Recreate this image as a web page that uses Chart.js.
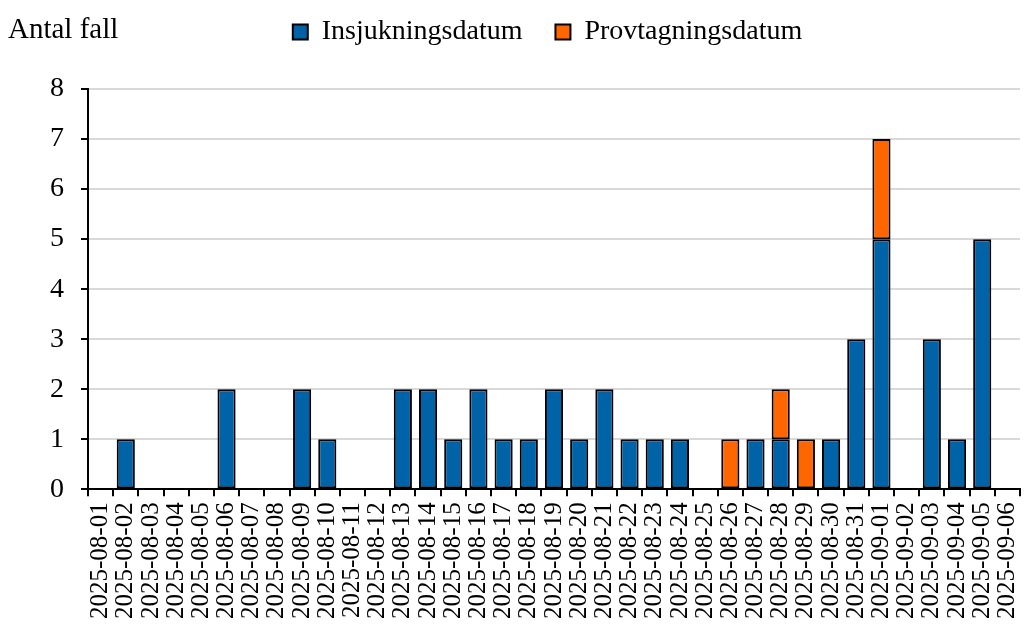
<!DOCTYPE html>
<html>
<head>
<meta charset="utf-8">
<script src="https://cdn.jsdelivr.net/npm/chart.js@4"></script>
<style>
  html, body { margin: 0; padding: 0; background: #fff; }
  #wrap { width: 1027px; height: 632px; }
</style>
</head>
<body>
<div id="wrap"><canvas id="chart"></canvas></div>
<script>
// datum (kategorier)
const dates = [
    '2025-08-01', '2025-08-02', '2025-08-03', '2025-08-04', '2025-08-05', '2025-08-06',
    '2025-08-07', '2025-08-08', '2025-08-09', '2025-08-10', '2025-08-11', '2025-08-12',
    '2025-08-13', '2025-08-14', '2025-08-15', '2025-08-16', '2025-08-17', '2025-08-18',
    '2025-08-19', '2025-08-20', '2025-08-21', '2025-08-22', '2025-08-23', '2025-08-24',
    '2025-08-25', '2025-08-26', '2025-08-27', '2025-08-28', '2025-08-29', '2025-08-30',
    '2025-08-31', '2025-09-01', '2025-09-02', '2025-09-03', '2025-09-04', '2025-09-05',
    '2025-09-06'
];
// antal fall per insjukningsdatum
const insjukning = [
    0, 1, 0, 0, 0, 2,
    0, 0, 2, 1, 0, 0,
    2, 2, 1, 2, 1, 1,
    2, 1, 2, 1, 1, 1,
    0, 0, 1, 1, 0, 1,
    3, 5, 0, 3, 1, 5,
    0
];
// antal fall per provtagningsdatum
const provtagning = [
    0, 0, 0, 0, 0, 0,
    0, 0, 0, 0, 0, 0,
    0, 0, 0, 0, 0, 0,
    0, 0, 0, 0, 0, 0,
    0, 1, 0, 1, 1, 0,
    0, 2, 0, 0, 0, 0,
    0
];
const yTicks = [0, 1, 2, 3, 4, 5, 6, 7, 8];

const serif = "'Liberation Serif', 'Times New Roman', serif";

// tomma staplar ritas inte alls (annars syns en liten kant vid noll)
const noZero = arr => arr.map(v => (v === 0 ? null : v));

// y-axeltitel uppe till vänster
const axisTitle = {
    id: 'axisTitle',
    afterDraw(chart) {
        const c = chart.ctx;
        c.save();
        c.font = '29px ' + serif;
        c.fillStyle = '#000';
        c.textBaseline = 'middle';
        c.textAlign = 'left';
        c.fillText('Antal fall', 8, 30);
        c.restore();
    }
};

// legenden: fast höjd, flyttas upp och lite åt höger
const legendTweak = {
    id: 'legendTweak',
    beforeInit(chart) {
        const lg = chart.legend;
        if (!lg) return;
        const fit = lg.fit;
        lg.fit = function () {
            fit.call(this);
            this.height = 87;
        };
    },
    afterLayout(chart) {
        const lg = chart.legend;
        if (!lg) return;
        lg.left += 21;
        lg.right += 21;
        lg.top -= 17;
    }
};

const ctx = document.getElementById('chart').getContext('2d');
const chart = new Chart(ctx, {
    type: 'bar',
    data: {
        labels: dates,
        datasets: [{
            label: 'Insjukningsdatum',
            data: noZero(insjukning),
            backgroundColor: '#0063A8',
            borderColor: '#000',
            borderWidth: 2,
            borderSkipped: false,
            barPercentage: 0.72,
            categoryPercentage: 1
        }, {
            label: 'Provtagningsdatum',
            data: noZero(provtagning),
            backgroundColor: '#FF6600',
            borderColor: '#000',
            borderWidth: 2,
            borderSkipped: false,
            barPercentage: 0.72,
            categoryPercentage: 1
        }]
    },
    options: {
        responsive: true,
        maintainAspectRatio: false,
        animation: false,
        layout: {
            padding: { top: 2, right: 7, bottom: 7, left: 33 }
        },
        plugins: {
            legend: {
                display: true,
                position: 'top',
                labels: {
                    color: '#000',
                    font: { family: serif, size: 28 },
                    boxWidth: 15,
                    boxHeight: 15,
                    padding: 33,
                    useBorderRadius: false
                }
            },
            tooltip: { enabled: false }
        },
        scales: {
            x: {
                stacked: true,
                afterFit(scale) {
                    // etiketterna är roterade, ingen extra marginal i sidled
                    scale.paddingLeft = 0;
                    scale.paddingRight = 0;
                },
                grid: {
                    offset: true,
                    drawOnChartArea: false,
                    color: '#000',
                    lineWidth: 2,
                    tickLength: 7
                },
                border: { color: '#000', width: 2 },
                ticks: {
                    color: '#000',
                    font: { family: serif, size: 25 },
                    minRotation: 90,
                    maxRotation: 90,
                    autoSkip: false,
                    padding: 6
                }
            },
            y: {
                stacked: true,
                min: 0,
                max: yTicks[yTicks.length - 1],
                afterBuildTicks(scale) {
                    scale.ticks = yTicks.map(v => ({ value: v }));
                },
                grid: {
                    color: '#D9D9D9',
                    lineWidth: 2,
                    tickColor: '#000',
                    tickLength: 7,
                    tickWidth: 2
                },
                border: { color: '#000', width: 2 },
                ticks: {
                    color: '#000',
                    font: { family: serif, size: 28 },
                    padding: 17
                }
            }
        }
    },
    plugins: [axisTitle, legendTweak]
});
</script>
</body>
</html>
